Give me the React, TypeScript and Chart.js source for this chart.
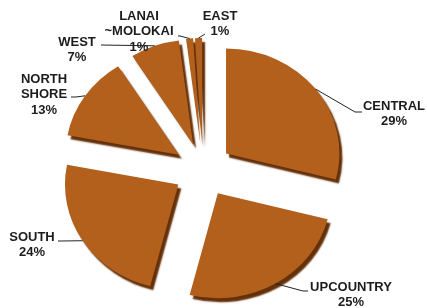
import React, { useEffect, useRef } from "react";
import { Chart, registerables } from "chart.js";

Chart.register(...registerables);

const categories = ["CENTRAL", "UPCOUNTRY", "SOUTH", "NORTH SHORE", "WEST", "LANAI ~MOLOKAI", "EAST"];
const shares = [29, 25, 24, 13, 7, 1, 1];
const labelLines = [
  ["CENTRAL", "29%"],
  ["UPCOUNTRY", "25%"],
  ["SOUTH", "24%"],
  ["NORTH", "SHORE", "13%"],
  ["WEST", "7%"],
  ["LANAI", "~MOLOKAI", "1%"],
  ["EAST", "1%"],
];

// layout (not data): text centre x, first line middle y, leader elbow, leader end
const labelLayout = [
  { tx: 394, ty: 106, elbow: [355, 112], end: [362, 112] },
  { tx: 351, ty: 287, elbow: [303, 291], end: [308, 291] },
  { tx: 32, ty: 237, elbow: [62, 241], end: [58, 241] },
  { tx: 44, ty: 79, elbow: [76, 97], end: [71, 97] },
  { tx: 77, ty: 42, elbow: [101, 45], end: [101, 45] },
  { tx: 139, ty: 16, elbow: [180, 36], end: [178, 36] },
  { tx: 220, ty: 16, elbow: [205, 34], end: [205, 34] },
];

const EXPLODE = 27;
const RADIUS = 105;
const XSCALE = 1.08;

function centre(chart: any) {
  return {
    cx: (chart.chartArea.left + chart.chartArea.right) / 2,
    cy: (chart.chartArea.top + chart.chartArea.bottom) / 2,
  };
}

const explodePlugin = {
  id: "explode",
  afterDatasetsUpdate(chart: any) {
    const meta = chart.getDatasetMeta(0);
    const { cx, cy } = centre(chart);
    meta.data.forEach((el: any) => {
      const mid = (el.startAngle + el.endAngle) / 2;
      el.x = cx + Math.cos(mid) * EXPLODE;
      el.y = cy + Math.sin(mid) * EXPLODE;
    });
  },
  beforeDatasetsDraw(chart: any) {
    const ctx = chart.ctx;
    const { cx } = centre(chart);
    ctx.save();
    ctx.translate(cx, 0);
    ctx.scale(XSCALE, 1);
    ctx.translate(-cx, 0);
    ctx.shadowColor = "#64300a";
    ctx.shadowOffsetX = 3;
    ctx.shadowOffsetY = 4;
    ctx.shadowBlur = 1.5;
  },
  afterDatasetsDraw(chart: any) {
    chart.ctx.restore();
  },
};

const labelPlugin = {
  id: "outLabels",
  afterDraw(chart: any) {
    const ctx = chart.ctx;
    const meta = chart.getDatasetMeta(0);
    const { cx } = centre(chart);
    ctx.save();
    ctx.font = "bold 13px 'Liberation Sans', Arial, sans-serif";
    ctx.fillStyle = "#1c1c1c";
    ctx.textAlign = "center";
    ctx.textBaseline = "middle";
    meta.data.forEach((el: any, i: number) => {
      const mid = (el.startAngle + el.endAngle) / 2;
      const sx = cx + (el.x + Math.cos(mid) * el.outerRadius - cx) * XSCALE;
      const sy = el.y + Math.sin(mid) * el.outerRadius;
      const L = labelLayout[i];
      ctx.strokeStyle = "#222";
      ctx.lineWidth = 1;
      ctx.beginPath();
      ctx.moveTo(sx, sy);
      ctx.lineTo(L.elbow[0], L.elbow[1]);
      ctx.lineTo(L.end[0], L.end[1]);
      ctx.stroke();
      labelLines[i].forEach((t, k) => {
        ctx.fillText(t, L.tx, L.ty + k * 15.5);
      });
    });
    ctx.restore();
  },
};

export default function App() {
  const ref = useRef<HTMLCanvasElement>(null);
  useEffect(() => {
    if (!ref.current) return;
    const chart = new Chart(ref.current, {
      type: "pie",
      data: {
        labels: categories,
        datasets: [
          {
            data: shares,
            backgroundColor: "#b2601b",
            borderWidth: 0,
          } as any,
        ],
      },
      options: {
        responsive: false,
        animation: false,
        radius: RADIUS,
        layout: { padding: { left: 4, right: 25, top: 32, bottom: 0 } },
        plugins: { legend: { display: false }, tooltip: { enabled: false } },
      } as any,
      plugins: [explodePlugin, labelPlugin],
    });
    return () => chart.destroy();
  }, []);
  return (
    <canvas
      ref={ref}
      width={427}
      height={308}
      style={{ position: "fixed", left: 0, top: 0, width: 427, height: 308, background: "#fff" }}
    />
  );
}
